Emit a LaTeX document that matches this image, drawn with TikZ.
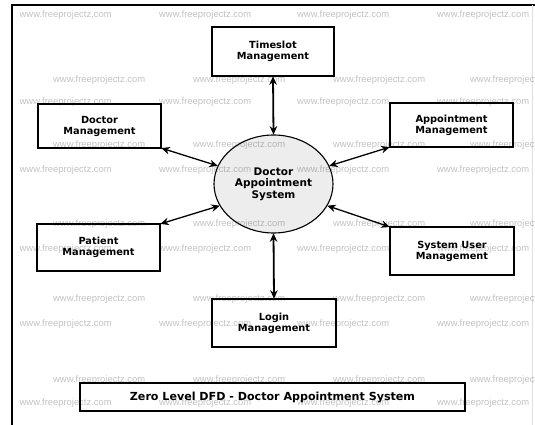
\documentclass[tikz,border=0pt]{standalone}
\usepackage{fontspec}
\usetikzlibrary{shapes.geometric,arrows.meta}
\newfontfamily\dvbold{DejaVu Sans Bold}
\newfontfamily\wmfont{Liberation Sans}
\begin{document}
\begin{tikzpicture}[x=1pt,y=-1pt,
  procbox/.style={draw=black,line width=1.2pt,inner sep=0pt,outer sep=0pt,align=center,
    font=\dvbold\fontsize{9.8}{11}\selectfont},
  proc/.style={ellipse,draw=black,line width=1.1pt,fill=gray!14,inner sep=0pt,outer sep=0pt,
    minimum width=119pt,minimum height=98pt,align=center,font=\dvbold\fontsize{10.5}{11.5}\selectfont},
  flow/.style={{Stealth[length=8.5pt,width=7.5pt]}-{Stealth[length=8.5pt,width=7.5pt]},line width=1.3pt,shorten <=0.3pt,shorten >=0.3pt},
  vflow/.style={flow,line width=1.8pt},
  wm/.style={font=\wmfont\fontsize{9.4}{10}\selectfont,text=black,opacity=0.24,inner sep=0pt,anchor=west}
]
\useasboundingbox (0,0) rectangle (535,425);
\fill[white] (0,0) rectangle (535,425);
% frame
\coordinate (fbl) at (12,425);
\coordinate (ftl) at (12,5);
\coordinate (ftr) at (535,5);
\coordinate (frt) at (532,5);
\coordinate (frb) at (532,425);
\draw[line width=1.5pt] (fbl) -- (ftl) -- (ftr);
\draw[gray!25,line width=0.8pt] (frt) -- (frb);

% nodes
\node[proc] (sys) at (273.5,184) {Doctor\\Appointment\\System};
\node[procbox,minimum width=122pt,minimum height=49pt] (time) at (273,51.5) {Timeslot\\Management};
\node[procbox,minimum width=123pt,minimum height=44pt] (doc) at (99.5,126) {Doctor\\Management};
\node[procbox,minimum width=123pt,minimum height=44pt] (app) at (451.5,125) {Appointment\\Management};
\node[procbox,minimum width=123pt,minimum height=47pt] (pat) at (98.5,247.5) {Patient\\Management};
\node[procbox,minimum width=124pt,minimum height=48pt] (sus) at (452,251) {System User\\Management};
\node[procbox,minimum width=124pt,minimum height=48pt] (log) at (274,323) {Login\\Management};
\node[procbox,minimum width=385pt,minimum height=28pt,font=\dvbold\fontsize{11.1}{12}\selectfont] (title) at (272.5,397) {Zero Level DFD - Doctor Appointment System};

% flows
\draw[vflow] (time.south) -- (sys.north);
\draw[vflow] (sys.south) -- (log.north);
\draw[flow] (doc.south east) -- (sys.162);
\draw[flow] (app.south west) -- (sys.18);
\draw[flow] (pat.north east) -- (sys.202);
\draw[flow] (sus.north west) -- (sys.338);

% watermark
\foreach \y in {15,102,170,249,324,403}{
  \foreach \x in {19.5,159,297,437}{
    \node[wm] at (\x,\y) {www.freeprojectz.com};
  }
}
\foreach \y in {80,145,224,299,380}{
  \foreach \x in {53,193,333,470}{
    \node[wm] at (\x,\y) {www.freeprojectz.com};
  }
}
\end{tikzpicture}
\end{document}
